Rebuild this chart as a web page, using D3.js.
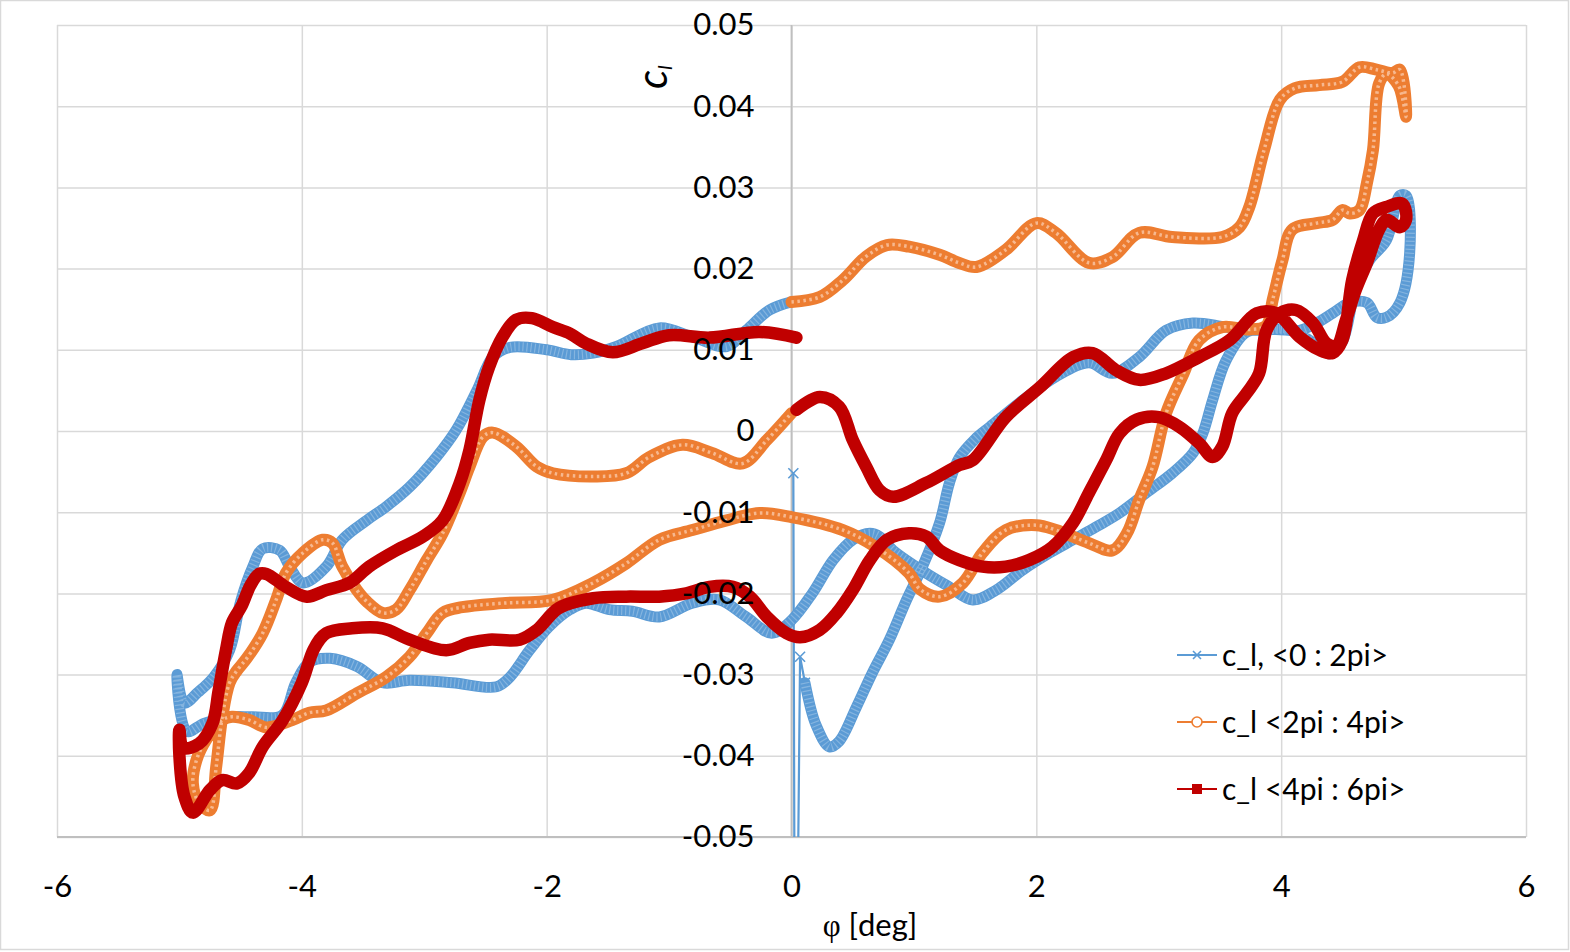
<!DOCTYPE html>
<html>
<head>
<meta charset="utf-8">
<script src="https://cdn.jsdelivr.net/npm/d3@7"></script>
<style>
  html, body { margin: 0; padding: 0; background: #fff; }
  svg { display: block; font-family: Lato, "Open Sans", "DejaVu Sans", sans-serif; }
</style>
</head>
<body>
<svg id="chart" width="1570" height="952"></svg>
<script>
// ---- data (phi [deg], c_l) ----
const xTicks = [-6, -4, -2, 0, 2, 4, 6];
const yTicks = [-0.05, -0.04, -0.03, -0.02, -0.01, 0, 0.01, 0.02, 0.03, 0.04, 0.05];
const seriesNames = ["c_l, <0 : 2pi>", "c_l <2pi : 4pi>", "c_l <4pi : 6pi>"];

const series1 = [
  [0.015,-0.0052],[0.03,-0.09],[0.07,-0.0278],[0.11,-0.031],[0.2,-0.0362],[0.31,-0.0389],[0.39,-0.0382],
  [0.53,-0.034],[0.66,-0.0298],[0.80,-0.0257],[0.94,-0.0208],[1.07,-0.0167],[1.21,-0.0113],[1.29,-0.0064],
  [1.37,-0.0033],[1.5,-0.001],[1.62,0.0005],[1.89,0.0038],[2.16,0.0067],[2.43,0.0084],[2.62,0.0071],
  [2.84,0.0091],[3.06,0.0124],[3.28,0.0133],[3.55,0.0128],[3.80,0.0124],[4.07,0.0125],[4.25,0.011],
  [4.4,0.0095],[4.5,0.011],[4.6,0.017],[4.72,0.021],[4.86,0.0235],[4.97,0.029],[5.02,0.029],[5.05,0.022],
  [4.97,0.0158],[4.86,0.014],[4.78,0.014],[4.70,0.0158],[4.56,0.0158],[4.42,0.0145],[4.29,0.0133],
  [4.15,0.0124],[3.95,0.0125],[3.72,0.0122],[3.55,0.0087],[3.44,0.0038],[3.36,-0.0003],[3.28,-0.0027],
  [3.11,-0.0052],[2.90,-0.0076],[2.68,-0.0101],[2.49,-0.0118],[2.30,-0.0134],[2.11,-0.015],[1.89,-0.0171],
  [1.67,-0.0196],[1.48,-0.0208],[1.29,-0.0192],[1.10,-0.0175],[0.83,-0.0147],[0.72,-0.013],[0.64,-0.0126],
  [0.50,-0.0134],[0.34,-0.0159],[0.17,-0.020],[0.0,-0.0233],[-0.16,-0.0249],[-0.37,-0.0229],[-0.59,-0.0208],
  [-0.81,-0.0212],[-1.08,-0.0229],[-1.30,-0.0222],[-1.49,-0.022],[-1.68,-0.0212],[-1.81,-0.022],
  [-1.98,-0.0241],[-2.14,-0.027],[-2.30,-0.0303],[-2.41,-0.0315],[-2.77,-0.031],[-3.12,-0.0307],
  [-3.34,-0.031],[-3.55,-0.029],[-3.77,-0.028],[-3.94,-0.0285],[-4.05,-0.031],[-4.16,-0.0350],
  [-4.40,-0.0352],[-4.57,-0.0352],[-4.8,-0.036],[-4.94,-0.037],[-5.02,-0.030],[-4.96,-0.0335],
  [-4.85,-0.0322],[-4.72,-0.0303],[-4.59,-0.027],[-4.50,-0.021],[-4.40,-0.0167],[-4.32,-0.0145],
  [-4.18,-0.0147],[-4.10,-0.0167],[-3.99,-0.0187],[-3.80,-0.0167],[-3.67,-0.0134],[-3.47,-0.011],
  [-3.31,-0.0093],[-3.12,-0.0069],[-2.90,-0.0032],[-2.74,0.0001],[-2.57,0.005],[-2.44,0.0091],
  [-2.30,0.0103],[-2.0,0.0100],[-1.80,0.0094],[-1.62,0.0096],[-1.43,0.0104],[-1.08,0.0127],
  [-0.81,0.0116],[-0.53,0.0104],[-0.37,0.0124],[-0.18,0.0149],[0.0,0.0159]
];

const series2 = [
  [0,0.0159],[0.23,0.0165],[0.42,0.0186],[0.61,0.0215],[0.78,0.0229],[0.96,0.0227],[1.21,0.0217],
  [1.37,0.0207],[1.51,0.0202],[1.75,0.0223],[2.0,0.0256],[2.16,0.0244],[2.43,0.0207],[2.62,0.0214],
  [2.84,0.0244],[3.11,0.0239],[3.52,0.0239],[3.66,0.0251],[3.74,0.0276],[3.86,0.0346],[3.99,0.0408],
  [4.11,0.0422],[4.31,0.0426],[4.50,0.043],[4.64,0.0448],[4.78,0.0445],[4.91,0.0441],[4.97,0.0445],
  [5.02,0.0387],[4.96,0.0425],[4.86,0.044],[4.80,0.0428],[4.75,0.0346],[4.70,0.0305],[4.64,0.0272],
  [4.56,0.0268],[4.50,0.0272],[4.42,0.026],[4.29,0.0256],[4.09,0.0248],[4.01,0.021],[3.93,0.0161],
  [3.88,0.013],[3.74,0.0125],[3.52,0.0128],[3.33,0.0112],[3.2,0.007],[3.06,0.0022],[2.95,-0.0044],
  [2.84,-0.0085],[2.74,-0.0126],[2.62,-0.0147],[2.43,-0.0138],[2.16,-0.0122],[2.0,-0.0116],
  [1.75,-0.0122],[1.56,-0.015],[1.40,-0.0187],[1.21,-0.0204],[1.05,-0.0195],[0.96,-0.0175],
  [0.69,-0.0143],[0.42,-0.0122],[0.0,-0.0106],[-0.26,-0.0101],[-0.53,-0.011],[-0.81,-0.0122],
  [-1.08,-0.0134],[-1.35,-0.0163],[-1.62,-0.0187],[-1.95,-0.0208],[-2.36,-0.0212],[-2.69,-0.0217],
  [-2.85,-0.0224],[-2.98,-0.0249],[-3.12,-0.0278],[-3.31,-0.0303],[-3.55,-0.0323],[-3.80,-0.0344],
  [-3.94,-0.0347],[-4.08,-0.0356],[-4.29,-0.0365],[-4.43,-0.0356],[-4.57,-0.0352],[-4.65,-0.0356],
  [-4.78,-0.038],[-4.86,-0.0405],[-4.89,-0.0434],[-4.84,-0.0458],[-4.75,-0.0467],[-4.70,-0.0414],
  [-4.65,-0.0352],[-4.59,-0.031],[-4.53,-0.0295],[-4.45,-0.028],[-4.32,-0.0249],[-4.21,-0.0208],
  [-4.13,-0.0175],[-3.99,-0.015],[-3.83,-0.0134],[-3.75,-0.0138],[-3.67,-0.0167],[-3.55,-0.0196],
  [-3.47,-0.021],[-3.34,-0.0224],[-3.23,-0.022],[-3.12,-0.0196],[-2.98,-0.0159],[-2.85,-0.0126],
  [-2.71,-0.0076],[-2.63,-0.0044],[-2.52,-0.0007],[-2.44,-0.0002],[-2.25,-0.0019],[-2.08,-0.0044],
  [-1.95,-0.0052],[-1.62,-0.0056],[-1.35,-0.0052],[-1.16,-0.0032],[-0.89,-0.0017],[-0.65,-0.0027],
  [-0.40,-0.004],[-0.20,-0.0011],[0,0.0022]
];

const series3 = [
  [0.04,0.0026],[0.23,0.0042],[0.39,0.003],[0.50,-0.0011],[0.61,-0.0044],[0.72,-0.0073],[0.83,-0.0081],
  [1.10,-0.0064],[1.37,-0.0042],[1.48,-0.0036],[1.75,0.0017],[2.03,0.0054],[2.30,0.0091],[2.46,0.0096],
  [2.65,0.0075],[2.84,0.0063],[3.06,0.0071],[3.33,0.0091],[3.58,0.0112],[3.80,0.0145],[3.96,0.0145],
  [4.15,0.0116],[4.31,0.010],[4.42,0.0096],[4.5,0.0112],[4.58,0.0186],[4.67,0.0235],[4.75,0.0268],
  [4.86,0.0276],[4.99,0.028],[5.02,0.026],[4.97,0.0251],[4.86,0.026],[4.80,0.0248],[4.70,0.0207],
  [4.61,0.0174],[4.53,0.0137],[4.45,0.0105],[4.37,0.0108],[4.26,0.0133],[4.12,0.0149],[3.99,0.0145],
  [3.88,0.0124],[3.82,0.0071],[3.72,0.0047],[3.60,0.0022],[3.52,-0.0019],[3.44,-0.0032],[3.33,-0.0015],
  [3.17,0.0005],[3.0,0.0017],[2.82,0.0014],[2.68,-0.0003],[2.57,-0.0036],[2.43,-0.0076],[2.30,-0.0113],
  [2.13,-0.0143],[1.94,-0.0159],[1.75,-0.0167],[1.56,-0.0167],[1.37,-0.0159],[1.21,-0.0147],
  [1.10,-0.013],[0.96,-0.0126],[0.78,-0.0134],[0.64,-0.0159],[0.50,-0.0196],[0.37,-0.0224],
  [0.23,-0.0245],[0.07,-0.0254],[-0.04,-0.0249],[-0.20,-0.0229],[-0.34,-0.0204],[-0.48,-0.0192],
  [-0.67,-0.0192],[-0.86,-0.020],[-1.08,-0.0204],[-1.35,-0.0204],[-1.62,-0.0206],[-1.90,-0.0218],
  [-2.08,-0.0245],[-2.22,-0.0257],[-2.47,-0.0257],[-2.63,-0.0261],[-2.82,-0.027],[-3.12,-0.0257],
  [-3.34,-0.0243],[-3.59,-0.0243],[-3.80,-0.0249],[-3.90,-0.0268],[-4.0,-0.031],[-4.16,-0.0357],
  [-4.32,-0.0389],[-4.43,-0.0421],[-4.53,-0.0434],[-4.65,-0.043],[-4.75,-0.0442],[-4.89,-0.047],
  [-4.96,-0.045],[-5.0,-0.040],[-5.0,-0.0368],[-4.97,-0.039],[-4.84,-0.0385],[-4.73,-0.036],
  [-4.68,-0.032],[-4.62,-0.027],[-4.57,-0.0236],[-4.49,-0.0215],[-4.42,-0.019],[-4.35,-0.0176],
  [-4.29,-0.0176],[-4.13,-0.0192],[-3.96,-0.0204],[-3.80,-0.0196],[-3.61,-0.0187],[-3.45,-0.0167],
  [-3.23,-0.0147],[-3.01,-0.013],[-2.85,-0.011],[-2.71,-0.0064],[-2.63,-0.0023],[-2.55,0.0038],
  [-2.47,0.0079],[-2.36,0.0116],[-2.25,0.0137],[-2.12,0.0139],[-1.95,0.0128],[-1.81,0.012],
  [-1.68,0.0108],[-1.46,0.0097],[-1.22,0.0108],[-1.0,0.0118],[-0.67,0.0115],[-0.26,0.0122],[0.04,0.0115]
];

// ---- layout ----
const W = 1570, H = 952;
const L = 57, R = 1526, T = 25, B = 837;
const colors = ["#5B9BD5", "#ED7D31", "#C00000"];

const svg = d3.select("#chart");
const x = d3.scaleLinear().domain([-6, 6]).range([L, R]);
const y = d3.scaleLinear().domain([-0.05, 0.05]).range([B, T]);

svg.append("rect").attr("x", 0.5).attr("y", 0.5).attr("width", W - 2).attr("height", H - 3)
  .attr("fill", "#fff").attr("stroke", "#d9d9d9").attr("stroke-width", 1.5);

// gridlines
const grid = svg.append("g");
grid.append("g").attr("transform", `translate(${L},0)`)
  .call(d3.axisLeft(y).tickValues(yTicks).tickSize(-(R - L)).tickFormat(""))
  .call(g => g.select(".domain").remove())
  .call(g => g.selectAll("line").attr("stroke", "#d9d9d9").attr("stroke-width", 1.5));
grid.append("g").attr("transform", `translate(0,${B})`)
  .call(d3.axisBottom(x).tickValues(xTicks).tickSize(-(B - T)).tickFormat(""))
  .call(g => g.select(".domain").remove())
  .call(g => g.selectAll("line").attr("stroke", "#d9d9d9").attr("stroke-width", 1.5));

// axis lines
svg.append("line").attr("x1", x(0)).attr("x2", x(0)).attr("y1", T).attr("y2", B)
  .attr("stroke", "#bfbfbf").attr("stroke-width", 1.8);
svg.append("line").attr("x1", L).attr("x2", R).attr("y1", B).attr("y2", B)
  .attr("stroke", "#bfbfbf").attr("stroke-width", 1.8);

// clip
svg.append("clipPath").attr("id", "plotclip").append("rect")
  .attr("x", L).attr("y", T).attr("width", R - L).attr("height", B - T);
const plot = svg.append("g").attr("clip-path", "url(#plotclip)");

const line = d3.line().x(d => x(d[0])).y(d => y(d[1])).curve(d3.curveCatmullRom.alpha(0.5));
const lineLin = d3.line().x(d => x(d[0])).y(d => y(d[1]));

// series 1 (blue, x markers)
plot.append("path").datum(series1.slice(0, 4)).attr("d", lineLin)
  .attr("fill", "none").attr("stroke", colors[0]).attr("stroke-width", 2.2);
plot.append("g").selectAll("path").data([series1[0], series1[2], series1[3]]).join("path")
  .attr("transform", d => `translate(${x(d[0])},${y(d[1])})`)
  .attr("d", "M-5,-5L5,5M-5,5L5,-5").attr("stroke", colors[0]).attr("stroke-width", 1.6).attr("fill", "none");
plot.append("path").datum(series1.slice(3)).attr("d", line)
  .attr("fill", "none").attr("stroke", colors[0]).attr("stroke-width", 11)
  .attr("stroke-linejoin", "round").attr("stroke-linecap", "round");
plot.append("path").datum(series1.slice(3)).attr("d", line)
  .attr("fill", "none").attr("stroke", "#ffffff").attr("stroke-width", 9).attr("stroke-opacity", 0.25)
  .attr("stroke-dasharray", "1.2,2.8");

// series 2 (orange, open circles)
plot.append("path").datum(series2).attr("d", line)
  .attr("fill", "none").attr("stroke", colors[1]).attr("stroke-width", 12)
  .attr("stroke-linejoin", "round").attr("stroke-linecap", "round");
plot.append("path").datum(series2).attr("d", line)
  .attr("fill", "none").attr("stroke", "#ffe9dc").attr("stroke-width", 3.5).attr("stroke-opacity", 0.55)
  .attr("stroke-dasharray", "2.5,3.5");

// series 3 (red, squares)
plot.append("path").datum(series3).attr("d", line)
  .attr("fill", "none").attr("stroke", colors[2]).attr("stroke-width", 12.5)
  .attr("stroke-linejoin", "round").attr("stroke-linecap", "round");

// tick labels
const fmtY = v => (Math.abs(v) < 1e-9 ? "0" : v.toFixed(2));
svg.append("g").attr("transform", `translate(${x(0)},0)`)
  .call(d3.axisLeft(y).tickValues(yTicks).tickSize(0).tickPadding(37).tickFormat(fmtY))
  .call(g => g.select(".domain").remove())
  .call(g => g.selectAll("text").attr("font-size", 31).attr("fill", "#000")
    .attr("font-family", "Lato, 'Open Sans', sans-serif"));
svg.append("g").attr("transform", `translate(0,${B})`)
  .call(d3.axisBottom(x).tickValues(xTicks).tickSize(0).tickPadding(38).tickFormat(v => String(v)))
  .call(g => g.select(".domain").remove())
  .call(g => g.selectAll("text").attr("font-size", 31).attr("fill", "#000")
    .attr("font-family", "Lato, 'Open Sans', sans-serif"));

// axis titles
svg.append("text").attr("x", 870).attr("y", 936).attr("text-anchor", "middle")
  .attr("font-size", 31).attr("fill", "#000")
  .html('<tspan font-family="\'Liberation Serif\', serif">φ</tspan> [deg]');
const yt = svg.append("text").attr("transform", "translate(667,89) rotate(-90)")
  .attr("font-size", 42).attr("fill", "#000");
yt.append("tspan").attr("font-style", "italic").text("c");
yt.append("tspan").attr("font-style", "italic").attr("font-size", 20).attr("dy", 5).text("l");

// legend
const legY = [655, 722, 789];
const leg = svg.append("g");
seriesNames.forEach((name, i) => {
  const g = leg.append("g").attr("transform", `translate(0,${legY[i]})`);
  g.append("line").attr("x1", 1177).attr("x2", 1217).attr("y1", 0).attr("y2", 0)
    .attr("stroke", colors[i]).attr("stroke-width", 2);
  if (i === 0) {
    g.append("path").attr("d", "M1193,-4L1201,4M1193,4L1201,-4").attr("stroke", colors[0]).attr("stroke-width", 1.6);
  } else if (i === 1) {
    g.append("circle").attr("cx", 1197).attr("cy", 0).attr("r", 5).attr("fill", "#fff")
      .attr("stroke", colors[1]).attr("stroke-width", 1.6);
  } else {
    g.append("rect").attr("x", 1192).attr("y", -5).attr("width", 10).attr("height", 10).attr("fill", colors[2]);
  }
  g.append("text").attr("x", 1222).attr("y", 0).attr("dy", "0.35em")
    .attr("font-size", 30).attr("fill", "#000").text(name);
});
</script>
</body>
</html>
